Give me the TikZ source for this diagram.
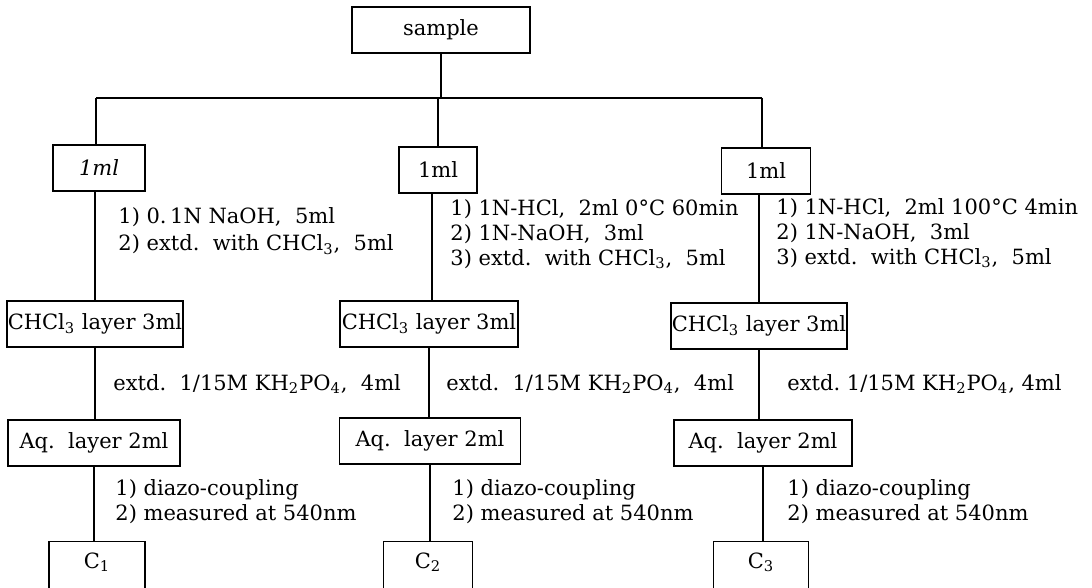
\documentclass[tikz,border=0pt]{standalone}
\usepackage{fontspec}
\setmainfont{DejaVu Serif}

\begin{document}
\begin{tikzpicture}[
    x=0.5pt, y=-0.5pt,
    font=\fontsize{10.5}{12.5}\selectfont,
    box/.style={draw, line width=0.8pt, align=center, inner sep=1pt, minimum height=23pt},
    openbox/.style={align=center, inner sep=1pt, minimum height=20pt},
    note/.style={anchor=west, align=left, inner sep=0pt},
    link/.style={line width=0.8pt}
  ]
    \useasboundingbox (0,0) rectangle (1092,588);
    % top
    \node[box, minimum width=89pt] (sample) at (441,30) {sample};
    \coordinate (barL) at (96,98);
    \coordinate (barR) at (762,98);
    % aliquots
    \node[box, minimum width=46pt] (aliA) at (99,168) {\textit{1ml}};
    \node[box, minimum width=39pt] (aliB) at (438,170) {1ml};
    \node[box, minimum width=44.5pt] (aliC) at (766,171) {1ml};
    \node[note] (treatA) at (118,231)
    {1) 0.\,1N NaOH,\ \ 5ml\\[1pt]
     2) extd.\ \ with CHCl\textsubscript{3},\ \ 5ml};
    \node[note] (treatB) at (450,234)
    {1) 1N-HCl,\ \ 2ml 0°C 60min\\
     2) 1N-NaOH,\ \ 3ml\\
     3) extd.\ \ with CHCl\textsubscript{3},\ \ 5ml};
    \node[note] (treatC) at (776,233)
    {1) 1N-HCl,\ \ 2ml 100°C 4min\\
     2) 1N-NaOH,\ \ 3ml\\
     3) extd.\ \ with CHCl\textsubscript{3},\ \ 5ml};
    % chloroform layers
    \node[box, minimum width=88pt, inner xsep=0pt] (chlA) at (95,324) {CHCl\textsubscript{3} layer 3ml};
    \node[box, minimum width=89pt, inner xsep=0pt] (chlB) at (429,324) {CHCl\textsubscript{3} layer 3ml};
    \node[box, minimum width=88pt, inner xsep=0pt] (chlC) at (759,326) {CHCl\textsubscript{3} layer 3ml};
    \node[note] (backA) at (113,384) {extd.\ \ 1/15M KH\textsubscript{2}PO\textsubscript{4},\ \ 4ml};
    \node[note] (backB) at (446,384) {extd.\ \ 1/15M KH\textsubscript{2}PO\textsubscript{4},\ \ 4ml};
    \node[note] (backC) at (787,384) {extd.\ 1/15M KH\textsubscript{2}PO\textsubscript{4},\ 4ml};
    % aqueous layers
    \node[box, minimum width=86pt] (aqA) at (94,443) {Aq.\ \ layer 2ml};
    \node[box, minimum width=90.5pt] (aqB) at (430,441) {Aq.\ \ layer 2ml};
    \node[box, minimum width=89pt] (aqC) at (763,443) {Aq.\ \ layer 2ml};
    \node[note] (measA) at (115,502) {1) diazo-coupling\\2) measured at 540nm};
    \node[note] (measB) at (452,502) {1) diazo-coupling\\2) measured at 540nm};
    \node[note] (measC) at (787,502) {1) diazo-coupling\\2) measured at 540nm};
    % results
    \node[openbox, minimum width=47.5pt] (resA) at (97,562) {C\textsubscript{1}};
    \node[openbox, minimum width=44pt] (resB) at (428,562) {C\textsubscript{2}};
    \node[openbox, minimum width=47pt] (resC) at (761,562) {C\textsubscript{3}};
    \draw[link] ([yshift=-10pt]resA.south west) -- (resA.north west) -- (resA.north east) -- ([yshift=-10pt]resA.south east);
    \draw[link] ([yshift=-10pt]resB.south west) -- (resB.north west) -- (resB.north east) -- ([yshift=-10pt]resB.south east);
    \draw[link] ([yshift=-10pt]resC.south west) -- (resC.north west) -- (resC.north east) -- ([yshift=-10pt]resC.south east);
    % connectors
    \draw[link] (barL) -- (barR);
    \draw[link] (sample.south) -- (sample.south |- barL);
    \draw[link] (barL) -- (barL |- aliA.north);
    \draw[link] (aliB.north |- barL) -- (aliB.north);
    \draw[link] (barR) -- (barR |- aliC.north);
    \draw[link] (chlA.north) -- (chlA.north |- aliA.south);
    \draw[link] (chlB.north -| 432,0) -- (432,0 |- aliB.south);
    \draw[link] (chlC.north) -- (chlC.north |- aliC.south);
    \draw[link] (chlA.south |- aqA.north) -- (chlA.south);
    \draw[link] (chlB.south |- aqB.north) -- (chlB.south);
    \draw[link] (chlC.south |- aqC.north) -- (chlC.south);
    \draw[link] (aqA.south) -- (aqA.south |- resA.north);
    \draw[link] (aqB.south) -- (aqB.south |- resB.north);
    \draw[link] (aqC.south) -- (aqC.south |- resC.north);
\end{tikzpicture}
\end{document}
